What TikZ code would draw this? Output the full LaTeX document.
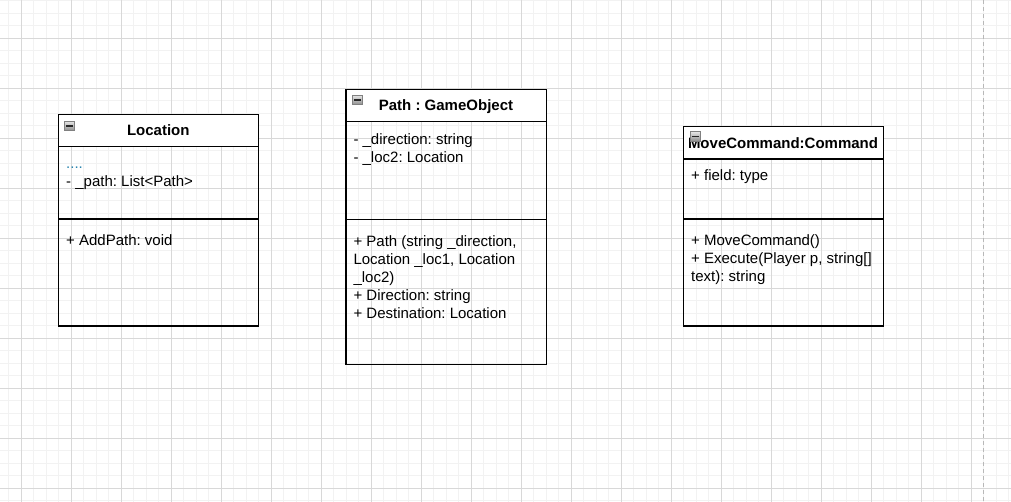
\documentclass[tikz,border=0pt]{standalone}
\usepackage{fontspec}
\setmainfont{Liberation Sans}
\usetikzlibrary{shadings}
\definecolor{minorgrid}{HTML}{F2F2F2}
\definecolor{majorgrid}{HTML}{D8D8D8}
\definecolor{dotcol}{HTML}{2B86B0}
\frenchspacing
\begin{document}
\begin{tikzpicture}[x=1pt,y=-1pt,
  minorline/.style={draw=minorgrid, line width=1pt},
  majorline/.style={draw=majorgrid, line width=1pt},
  pageline/.style={draw=black!28, line width=1pt, dash pattern=on 4pt off 3pt},
  classbox/.style={draw=black, line width=1.1pt, anchor=north west, inner sep=0pt, outer sep=0pt},
  headbox/.style={classbox, fill=white},
  sepline/.style={draw=black, line width=1.1pt},
  titletext/.style={font=\bfseries\fontsize{15}{18}\selectfont, anchor=base, inner sep=0pt},
  membertext/.style={font=\fontsize{15}{18}\selectfont, anchor=base west, inner sep=0pt, align=left},
  collapse/.style={draw=black!50, line width=0.6pt, minimum width=10.5pt, minimum height=9.5pt, inner sep=0pt,
    top color=black!10, bottom color=black!45,
    path picture={\draw[line width=1.4pt, black!85]
      ([xshift=1.8pt]path picture bounding box.west) -- ([xshift=-1.8pt]path picture bounding box.east);}},
]
\useasboundingbox (0,0) rectangle (1011,502);
\fill[white] (0,0) rectangle (1011,502);
\begin{scope}
\clip (0,0) rectangle (1011,502);
\foreach \i in {0,...,81} \draw[minorline] ({8.8+12.5*\i},0) -- ({8.8+12.5*\i},502);
\foreach \j in {0,...,40} \draw[minorline] (0,{0.8+12.5*\j}) -- (1011,{0.8+12.5*\j});
\foreach \i in {0,...,19} \draw[majorline] ({21.3+50*\i},0) -- ({21.3+50*\i},502);
\foreach \j in {0,...,9} \draw[majorline] (0,{38.3+50*\j}) -- (1011,{38.3+50*\j});
\end{scope}
\coordinate (pgtop) at (983.3,0);
\coordinate (pgbot) at (983.3,502);
\draw[pageline] (pgtop) -- (pgbot);

% ---------- Location ----------
\node[headbox, minimum width=200.4pt, minimum height=32.4pt] (locH) at (58.3,114.3) {};
\node[classbox, minimum width=200.4pt, minimum height=211.7pt] (loc) at (58.3,114.3) {};
\draw[sepline] (58.3,219) -- (258.7,219);
\node[collapse] (locI) at (69.3,126) {};
\node[titletext] (locT) at (158.3,135.7) {Location};
\node[membertext, text=dotcol] (locA1) at (66,168.7) {....};
\node[membertext] (locA2) at (66,186.7) {- \_path: List<Path>};
\node[membertext] (locM1) at (66,245.7) {+ AddPath: void};

% ---------- Path ----------
\node[headbox, minimum width=200.3pt, minimum height=32.4pt] (pathH) at (346,89.3) {};
\node[classbox, minimum width=200.3pt, minimum height=275pt] (path) at (346,89.3) {};
\draw[sepline] (346,219.3) -- (546.3,219.3);
\node[collapse] (pathI) at (357.5,100) {};
\node[titletext] (pathT) at (446,110.7) {Path : GameObject};
\node[membertext] (pathA1) at (353.3,144.3) {- \_direction: string};
\node[membertext] (pathA2) at (353.3,162.3) {- \_loc2: Location};
\node[membertext] (pathM1) at (353.3,246.7) {+ Path (string \_direction,};
\node[membertext] (pathM2) at (353.3,264.7) {Location \_loc1, Location};
\node[membertext] (pathM3) at (353.3,282.7) {\_loc2)};
\node[membertext] (pathM4) at (353.3,300.7) {+ Direction: string};
\node[membertext] (pathM5) at (353.3,318.7) {+ Destination: Location};

% ---------- MoveCommand ----------
\node[headbox, minimum width=200.4pt, minimum height=32.3pt] (movH) at (683.3,126.7) {};
\node[classbox, minimum width=200.4pt, minimum height=199.3pt] (mov) at (683.3,126.7) {};
\draw[sepline] (683.3,219) -- (883.7,219);
\node[titletext] (movT) at (783,149) {MoveCommand:Command};
\node[collapse] (movI) at (695.3,136.5) {};
\node[membertext] (movA1) at (691,181) {+ field: type};
\node[membertext] (movM1) at (691,246) {+ MoveCommand()};
\node[membertext] (movM2) at (691,264) {+ Execute(Player p, string[]};
\node[membertext] (movM3) at (691,282) {text): string};
\end{tikzpicture}
\end{document}
